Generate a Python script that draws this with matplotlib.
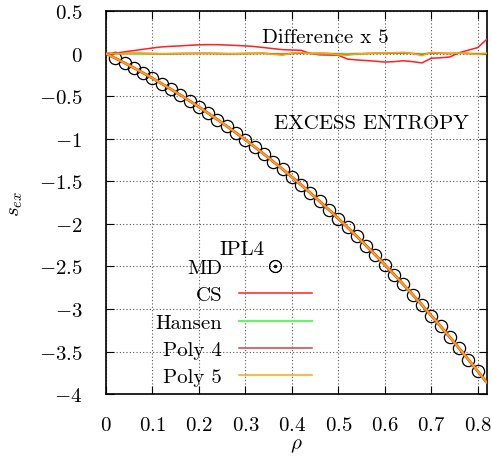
"""
IPL4 excess entropy: MD points vs. CS / Hansen / polynomial fits
"""
import numpy as np
import matplotlib
matplotlib.use("Agg")
import matplotlib.pyplot as plt
from matplotlib.lines import Line2D

plt.rcParams['font.family'] = 'serif'
plt.rcParams['font.serif'] = ['cmr10', 'DejaVu Serif']
plt.rcParams['mathtext.fontset'] = 'cm'
plt.rcParams['axes.formatter.use_mathtext'] = True
plt.rcParams['font.size'] = 15

# MD data (density, excess entropy)
rho_md = [0.02, 0.04, 0.06, 0.08, 0.10, 0.12, 0.14, 0.16, 0.18, 0.20,
          0.22, 0.24, 0.26, 0.28, 0.30, 0.32, 0.34, 0.36, 0.38, 0.40,
          0.42, 0.44, 0.46, 0.48, 0.50, 0.52, 0.54, 0.56, 0.58, 0.60,
          0.62, 0.64, 0.66, 0.68, 0.70, 0.72, 0.74, 0.76, 0.78, 0.80]
s_md = [-0.054, -0.110, -0.168, -0.228, -0.290, -0.354, -0.419, -0.487, -0.556, -0.627,
        -0.701, -0.776, -0.853, -0.932, -1.013, -1.097, -1.182, -1.269, -1.358, -1.450,
        -1.543, -1.639, -1.737, -1.836, -1.938, -2.042, -2.148, -2.257, -2.367, -2.480,
        -2.595, -2.712, -2.831, -2.953, -3.077, -3.203, -3.331, -3.462, -3.594, -3.730]

# theory curves (all four coincide on this scale)
rho_th = [0.0] + rho_md + [0.82]
s_th = [0.0] + s_md + [-3.867]

# differences (model - MD) x 5, on the same grid
diff_cs = [0.0, 0.005, 0.020, 0.035, 0.050, 0.065, 0.078, 0.085, 0.090, 0.097, 0.102,
           0.105, 0.104, 0.100, 0.095, 0.090, 0.082, 0.070, 0.058, 0.046, 0.042,
           0.038, 0.000, -0.015, -0.018, -0.020, -0.065, -0.075, -0.082, -0.090, -0.100,
           -0.095, -0.085, -0.095, -0.110, -0.055, -0.050, -0.040, 0.010, 0.040, 0.070,
           0.170]
diff_hansen = [0.0, 0.0, -0.005, -0.008, -0.010, -0.008, -0.005, -0.003, -0.002, 0.0, 0.0,
               0.002, 0.0, -0.002, 0.0, 0.002, 0.0, -0.003, 0.0, 0.002, 0.0,
               0.003, 0.0, -0.002, 0.0, 0.002, 0.0, 0.003, 0.0, 0.002, 0.0,
               0.003, 0.005, 0.002, 0.0, 0.005, 0.004, 0.002, 0.005, 0.003, 0.002,
               0.003]
diff_poly4 = [0.0, 0.0, 0.002, 0.003, 0.002, 0.0, -0.002, -0.002, 0.0, 0.002, 0.003,
              0.002, 0.0, -0.002, -0.002, 0.0, 0.002, 0.004, -0.005, -0.010, 0.002,
              0.006, 0.002, 0.003, 0.0, -0.008, -0.012, -0.004, 0.0, 0.003, 0.004,
              0.006, 0.008, 0.0, -0.012, 0.008, 0.003, 0.0, 0.003, 0.0, -0.005,
              0.0]
diff_poly5 = [0.0, 0.0, 0.0, 0.003, 0.002, 0.0, -0.002, 0.0, 0.002, 0.0, -0.002,
              0.0, 0.002, 0.0, -0.002, 0.0, 0.002, 0.005, -0.010, -0.020, 0.005,
              0.010, 0.0, 0.005, 0.0, -0.015, -0.020, -0.005, 0.0, 0.005, 0.005,
              0.010, 0.015, 0.0, -0.025, 0.015, 0.005, 0.0, 0.005, 0.0, -0.010,
              0.0]

xticks = [0, 0.1, 0.2, 0.3, 0.4, 0.5, 0.6, 0.7, 0.8]
xticklabels = ['0', '0.1', '0.2', '0.3', '0.4', '0.5', '0.6', '0.7', '0.8']
yticks = [0.5, 0, -0.5, -1, -1.5, -2, -2.5, -3, -3.5, -4]
yticklabels = ['0.5', '0', '-0.5', '-1', '-1.5', '-2', '-2.5', '-3', '-3.5', '-4']

c_cs = '#ff2020'
c_hansen = '#70ee70'
c_poly4 = '#c04848'
c_poly5 = '#ffa500'

fig = plt.figure(figsize=(4.92, 4.77), dpi=100)
ax = fig.add_axes([0.2154, 0.1716, 0.7744, 0.8033])

# difference curves around zero
ax.plot(rho_th, diff_cs, color=c_cs, lw=1.1, zorder=3)
ax.plot(rho_th, diff_hansen, color=c_hansen, lw=1.1, zorder=3)
ax.plot(rho_th, diff_poly4, color=c_poly4, lw=1.1, zorder=3)
ax.plot(rho_th, diff_poly5, color=c_poly5, lw=1.1, zorder=3)

# MD points
ax.plot(rho_md, s_md, 'o', ms=8.8, mfc='none', mec='black', mew=0.9, zorder=2)

# theory curves
ax.plot(rho_th, s_th, color=c_cs, lw=2.0, zorder=3)
ax.plot(rho_th, s_th, color=c_hansen, lw=1.2, zorder=3)
ax.plot(rho_th, s_th, color=c_poly4, lw=1.2, zorder=3)
ax.plot(rho_th, s_th, color=c_poly5, lw=1.2, zorder=4)

ax.set_xlim(0, 0.82)
ax.set_ylim(-4, 0.5)
ax.set_xticks(xticks)
ax.set_xticklabels(['$%s$' % t for t in xticklabels])
ax.set_yticks(yticks)
ax.set_yticklabels(['$%s$' % t for t in yticklabels])
ax.tick_params(direction='in', length=6, width=0.8, top=True, right=True)
ax.tick_params(axis='y', pad=17)
ax.tick_params(axis='x', pad=16)
ax.grid(True, linestyle=(0, (1, 2)), color='#555555', lw=0.8)
for sp in ax.spines.values():
    sp.set_linewidth(1.2)

ax.set_xlabel(r'$\rho$', labelpad=1)
ax.set_ylabel(r'$s_{ex}$', labelpad=10)

ax.text(0.575, 0.932, 'Difference x 5', transform=ax.transAxes, ha='center', va='center')
ax.text(0.696, 0.708, 'EXCESS ENTROPY', transform=ax.transAxes, ha='center', va='center')
ax.text(0.358, 0.379, 'IPL4', transform=ax.transAxes, ha='center', va='center')

handles = [Line2D([], [], ls='none', marker=r'$\odot$', ms=9, color='black', mew=0.5),
           Line2D([], [], color=c_cs, lw=1.1),
           Line2D([], [], color=c_hansen, lw=1.6),
           Line2D([], [], color=c_poly4, lw=1.1),
           Line2D([], [], color=c_poly5, lw=1.1)]
labels = ['MD', 'CS', 'Hansen', 'Poly 4', 'Poly 5']
leg = ax.legend(handles, labels, loc='lower right', bbox_to_anchor=(0.54, 0.02),
                markerfirst=False, frameon=False, handlelength=3.5,
                handletextpad=0.8, labelspacing=0.42, borderpad=0, borderaxespad=0)

fig.savefig('out.png', dpi=100)
